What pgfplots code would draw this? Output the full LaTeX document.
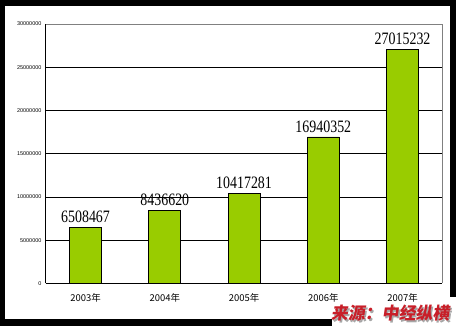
\documentclass[border=0pt]{standalone}
\usepackage{pgfplots}
\pgfplotsset{compat=1.18}
\usepackage{fontspec}
\setmainfont{Liberation Serif}
\newfontfamily\cjk{Noto Sans CJK SC}
\newfontfamily\lsans{Liberation Sans}
\definecolor{barg}{RGB}{153,204,0}
\definecolor{srcred}{RGB}{200,30,40}
\begin{document}
\begin{tikzpicture}[x=1bp,y=1bp]
\fill[black] (0,0) rectangle (457,327);
\fill[white] (5,7) rectangle (451,321);
\fill[white] (333,0) rectangle (457,29);
\begin{axis}[
  at={(46bp,43bp)}, anchor=south west,
  scale only axis, width=397bp, height=260bp,
  xmin=-0.5, xmax=4.5, ymin=0, ymax=30000000,
  axis x line*=bottom, axis y line*=left,
  axis line style={black, line width=0.9bp},
  xtick={0,1,2,3,4},
  xticklabels={2003年,2004年,2005年,2006年,2007年},
  x tick label style={font=\cjk\fontsize{9.5}{10}\selectfont, yshift=-5bp},
  major x tick style={draw=none},
  extra x ticks={0.5,1.5,2.5,3.5},
  extra x tick labels={},
  extra x tick style={major tick length=4bp, tick align=inside, tick style={black, line width=0.8bp, draw=black}},
  ytick={0,5000000,10000000,15000000,20000000,25000000,30000000},
  scaled y ticks=false,
  yticklabel style={font=\lsans\fontsize{5.5}{6}\selectfont, /pgf/number format/fixed, /pgf/number format/1000 sep={}, /pgf/number format/assume math mode=true, xshift=-1bp},
  ytick style={black, line width=0.6bp},
  major tick length=2bp,
  ymajorgrids, grid style={black, line width=0.8bp},
  ybar, bar width=32bp,
  point meta=explicit symbolic,
  nodes near coords={\scalebox{1}[1.25]{\pgfplotspointmeta}},
  every node near coord/.append style={font=\fontsize{14}{14}\selectfont, black, yshift=1bp},
  clip=false,
]
\addplot[fill=barg, draw=black, line width=0.8bp] coordinates {
  (0,6508467) [6508467]
  (1,8436620) [8436620]
  (2,10417281) [10417281]
  (3,16940352) [16940352]
  (4,27015232) [27015232]
};
\draw[gray, line width=0.9bp] (rel axis cs:0,1) -- (rel axis cs:1,1) -- (rel axis cs:1,0);
\end{axis}
\node[text=gray!70, font=\cjk\bfseries\fontsize{17}{17}\selectfont, xslant=0.15] at (393.5,11.5) {来源：中经纵横};
\node[text=srcred, font=\cjk\bfseries\fontsize{17}{17}\selectfont, xslant=0.15] at (392,13) {来源：中经纵横};
\end{tikzpicture}
\end{document}
